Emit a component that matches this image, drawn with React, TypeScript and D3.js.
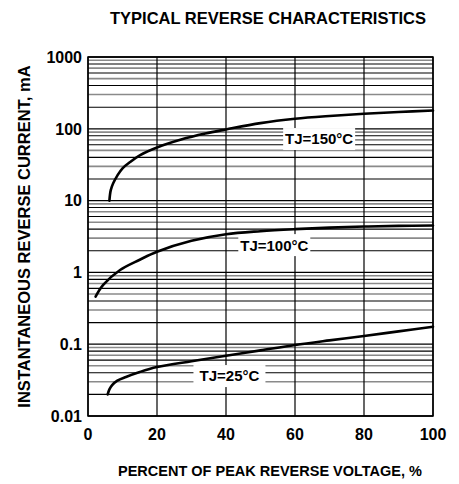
import React from 'react';
import * as d3 from 'd3';

const xTicks = [0, 20, 40, 60, 80, 100];
const yTicks = [0.01, 0.1, 1, 10, 100, 1000];
const yTickLabels = ['0.01', '0.1', '1', '10', '100', '1000'];
const minorMultipliers = [2, 3, 4, 5, 6, 7, 8, 9];
const grayMultipliers = [3, 5, 7, 9];

const pct150 = [6.2, 6.6, 7.3, 8.5, 10, 12, 15, 20, 27, 34, 40, 50, 60, 70, 80, 90, 100];
const cur150 = [10, 14, 17.4, 22.3, 28.2, 33.9, 42.7, 55, 71, 86, 98, 120, 138, 151, 162, 171, 180];
const pct100 = [2.2, 4.4, 9.3, 15, 20, 30, 40, 50, 60, 70, 80, 90, 100];
const cur100 = [0.46, 0.67, 1.08, 1.5, 1.94, 2.75, 3.4, 3.75, 4.0, 4.2, 4.35, 4.45, 4.5];
const pct25 = [5.7, 6.2, 7, 8.5, 11, 15, 20, 30, 40, 50, 60, 70, 80, 90, 100];
const cur25 = [0.02, 0.0235, 0.027, 0.031, 0.035, 0.041, 0.048, 0.058, 0.069, 0.082, 0.0975, 0.113, 0.13, 0.151, 0.175];

const seriesLabels = ['TJ=150°C', 'TJ=100°C', 'TJ=25°C'];
// where each label box sits, in data units
const labelPct = [67, 54, 41];
const labelCur = [72, 2.4, 0.036];

const FONT = 'Liberation Sans, Arial, sans-serif';

const App = () => {
  const left = 88, right = 433, top = 57, bottom = 416;
  const x = d3.scaleLinear().domain([0, 100]).range([left, right]);
  const y = d3.scaleLog().domain([0.01, 1000]).range([bottom, top]);

  const makePath = (xs: number[], ys: number[]) =>
    d3
      .line<number>()
      .x((_, i) => x(xs[i]))
      .y((_, i) => y(ys[i]))
      .curve(d3.curveCatmullRom.alpha(0.5))(xs) as string;

  const minor: { v: number; gray: boolean }[] = [];
  yTicks.slice(0, -1).forEach((d) => {
    minorMultipliers.forEach((m) => minor.push({ v: d * m, gray: grayMultipliers.includes(m) }));
  });

  const series = [
    [pct150, cur150],
    [pct100, cur100],
    [pct25, cur25],
  ];

  return (
    <svg width={459} height={484} style={{ display: 'block', position: 'absolute', left: 0, top: 0 }}>
      <rect width={459} height={484} fill="#fff" />
      <text x={268} y={24} textAnchor="middle" fontFamily={FONT} fontWeight="bold" fontSize={16.5}>
        TYPICAL REVERSE CHARACTERISTICS
      </text>

      {/* horizontal grid */}
      {minor.map((d, i) => (
        <line key={'m' + i} x1={left} x2={right} y1={y(d.v)} y2={y(d.v)} stroke={d.gray ? '#8a8a8a' : '#000'} strokeWidth={d.gray ? 1.6 : 1.1} />
      ))}
      {yTicks.map((d) => (
        <line key={'M' + d} x1={left} x2={right} y1={y(d)} y2={y(d)} stroke="#000" strokeWidth={1.3} />
      ))}
      {/* vertical grid */}
      {xTicks.map((d) => (
        <line key={'v' + d} x1={x(d)} x2={x(d)} y1={top} y2={bottom} stroke="#000" strokeWidth={1.2} />
      ))}

      {/* label boxes */}
      {seriesLabels.map((t, i) => (
        <g key={t}>
          <rect x={x(labelPct[i]) - (t.length > 8 ? 40 : 36)} y={y(labelCur[i]) - 11} width={t.length > 8 ? 80 : 72} height={22} fill="#fff" />
          <text x={x(labelPct[i])} y={y(labelCur[i])} dy="0.36em" textAnchor="middle" fontFamily={FONT} fontWeight="bold" fontSize={15}>
            {t}
          </text>
        </g>
      ))}

      <rect x={left} y={top} width={right - left} height={bottom - top} fill="none" stroke="#000" strokeWidth={1.5} />

      {series.map(([xs, ys], i) => (
        <path key={'s' + i} d={makePath(xs, ys)} fill="none" stroke="#000" strokeWidth={2.6} strokeLinecap="round" />
      ))}

      {/* y tick labels */}
      {yTicks.map((d, i) => (
        <text key={'yl' + d} x={left - 6} y={y(d)} dy="0.36em" textAnchor="end" fontFamily={FONT} fontWeight="bold" fontSize={16}>
          {yTickLabels[i]}
        </text>
      ))}
      {/* x tick labels */}
      {xTicks.map((d) => (
        <text key={'xl' + d} x={x(d)} y={440} textAnchor="middle" fontFamily={FONT} fontWeight="bold" fontSize={16}>
          {d}
        </text>
      ))}

      <text x={270} y={476} textAnchor="middle" fontFamily={FONT} fontWeight="bold" fontSize={14.5}>
        PERCENT OF PEAK REVERSE VOLTAGE, %
      </text>
      <text transform={`translate(30,${(top + bottom) / 2}) rotate(-90)`} textAnchor="middle" fontFamily={FONT} fontWeight="bold" fontSize={16.5}>
        INSTANTANEOUS REVERSE CURRENT, mA
      </text>
    </svg>
  );
};

export default App;
